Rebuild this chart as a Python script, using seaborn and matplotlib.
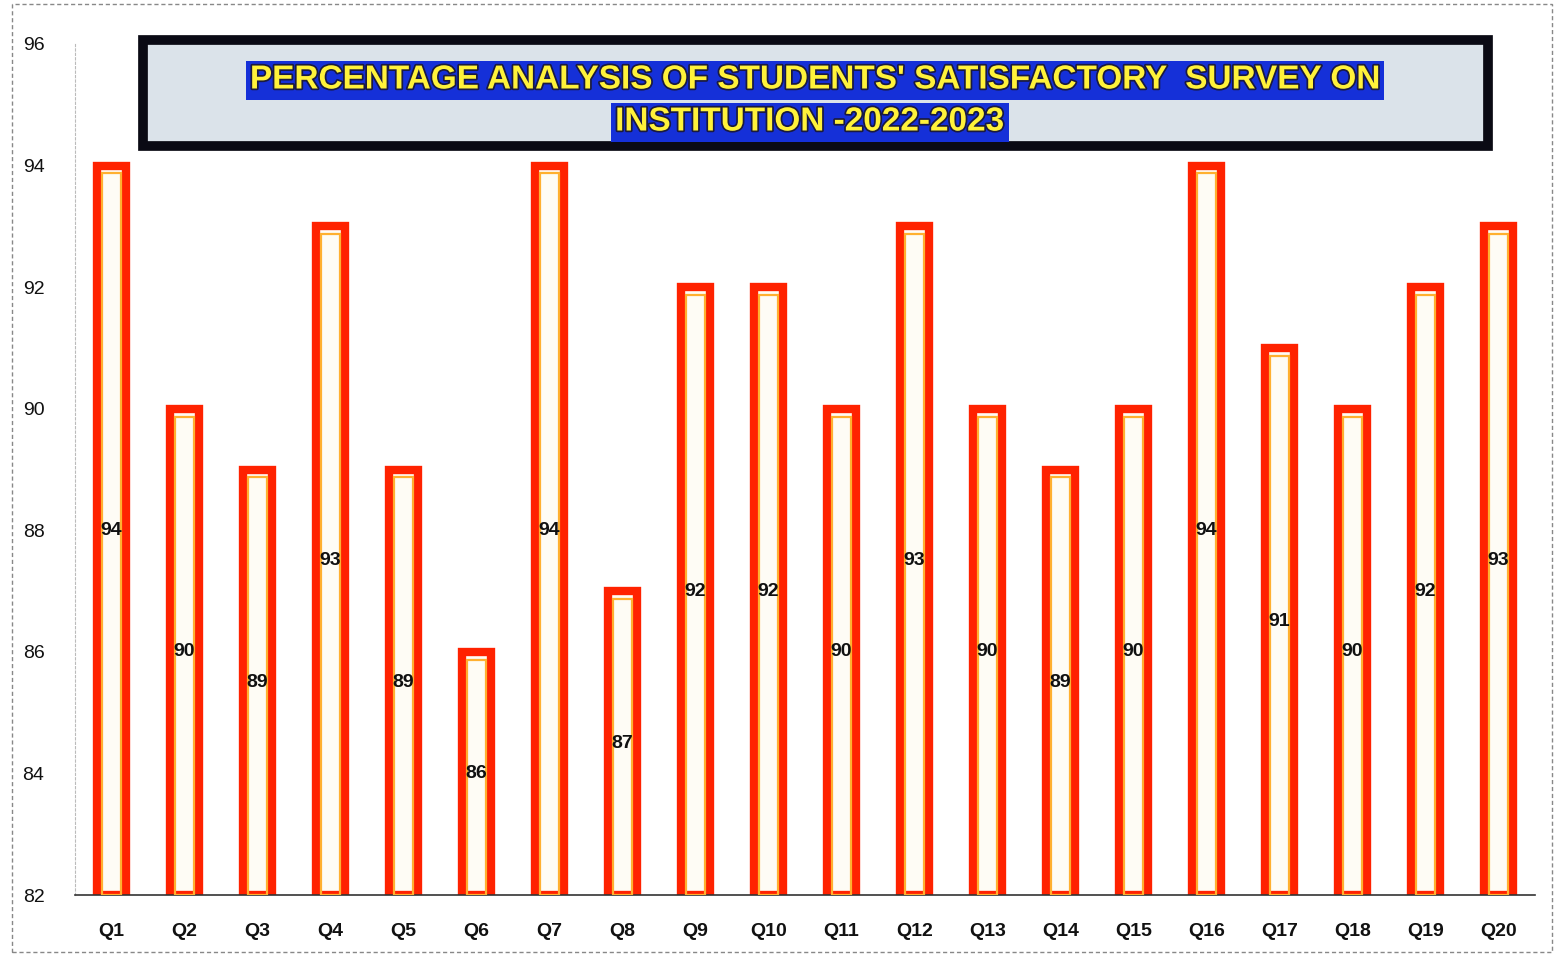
import numpy as np
import pandas as pd
import matplotlib
matplotlib.use("Agg")
import matplotlib.pyplot as plt
import matplotlib.patheffects as pe
from matplotlib.patches import Rectangle
import seaborn as sns

questions = ["Q1", "Q2", "Q3", "Q4", "Q5", "Q6", "Q7", "Q8", "Q9", "Q10",
             "Q11", "Q12", "Q13", "Q14", "Q15", "Q16", "Q17", "Q18", "Q19", "Q20"]
percent = [94, 90, 89, 93, 89, 86, 94, 87, 92, 92,
           90, 93, 90, 89, 90, 94, 91, 90, 92, 93]
y_ticks = [82, 84, 86, 88, 90, 92, 94, 96]
title_1 = "PERCENTAGE ANALYSIS OF STUDENTS' SATISFACTORY  SURVEY ON"
title_2 = "INSTITUTION -2022-2023"

df = pd.DataFrame({"question": questions, "percent": percent})

sns.set_style("white")
plt.rcParams['font.family'] = ['Liberation Sans', 'DejaVu Sans']

fig = plt.figure(figsize=(15.56, 9.56), dpi=100)
ax = fig.add_axes([75 / 1556, 1 - 895 / 956, 1460 / 1556, 851 / 956])

# bars with thick red outline
sns.barplot(data=df, x="question", y="percent", ax=ax, width=0.4,
            color="#fffdf4", edgecolor="#ff2200", linewidth=6, zorder=2)
ax.set_ylim(82, 96)
ax.set_xlim(-0.5, len(questions) - 0.5)
bars = list(ax.patches)
for p in bars:
    p.set_y(82)
    p.set_height(p.get_height() - 82)
    # inner orange glow
    x0, w, h = p.get_x(), p.get_width(), p.get_height()
    ax.add_patch(Rectangle((x0 + 0.065, 82), w - 0.13, h - 0.13, fill=False,
                           edgecolor="#ffb030", linewidth=1.6, zorder=3))

# value labels in middle of the bars
for i, v in enumerate(percent):
    ax.text(i, (82 + v) / 2, str(v), ha="center", va="center",
            fontsize=14, fontweight="bold", color="#111111", zorder=5)

ax.set_yticks(y_ticks)
ax.set_yticklabels([str(t) for t in y_ticks], fontsize=14, color="#111111")
ax.tick_params(axis="y", length=0, pad=22)
ax.tick_params(axis="x", length=0, pad=20, labelsize=14, labelcolor="#111111")
for lab in ax.get_xticklabels():
    lab.set_fontweight("bold")
ax.set_xlabel("")
ax.set_ylabel("")
for s in ["top", "right"]:
    ax.spines[s].set_visible(False)
ax.spines["left"].set_color("#bbbbbb")
ax.spines["left"].set_linestyle((0, (2, 2)))
ax.spines["left"].set_linewidth(0.8)
ax.spines["bottom"].set_color("#333333")
ax.spines["bottom"].set_linewidth(1.2)

# chart area border
fig.patches.append(Rectangle((12 / 1556, 4 / 956), 1540 / 1556, 948 / 956,
                             transform=fig.transFigure, fill=False,
                             edgecolor="#888888", linewidth=1.0,
                             linestyle=(0, (3, 2))))

# title banner
fig.patches.append(Rectangle((143 / 1556, 1 - 146 / 956), 1345 / 1556, 106 / 956,
                             transform=fig.transFigure, facecolor="#dbe3ea",
                             edgecolor="#0a0a14", linewidth=7, zorder=4))
outline = [pe.withStroke(linewidth=2.5, foreground="#1a1a40")]
box = dict(boxstyle="square,pad=0.12", facecolor="#1530d8", edgecolor="none")
fig.text(815 / 1556, 1 - 80 / 956, title_1, ha="center", va="center",
         fontsize=24, fontweight="bold", color="#fff23a",
         path_effects=outline, bbox=box, zorder=6)
fig.text(810 / 1556, 1 - 122 / 956, title_2, ha="center", va="center",
         fontsize=24, fontweight="bold", color="#fff23a",
         path_effects=outline, bbox=box, zorder=6)

fig.savefig("out.png", dpi=100, facecolor="white")
